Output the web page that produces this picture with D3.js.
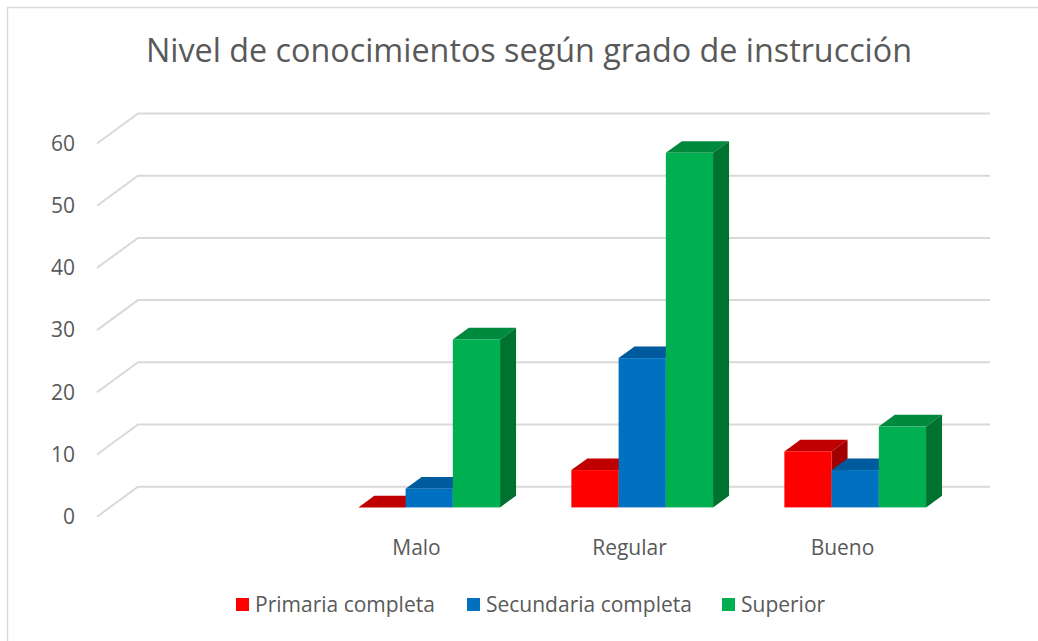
<!DOCTYPE html>
<html>
<head>
<meta charset="utf-8">
<script src="https://cdn.jsdelivr.net/npm/d3@7"></script>
<style>
  body { margin: 0; background: #fff; }
  text { font-family: "Open Sans", sans-serif; fill: #595959; }
</style>
</head>
<body>
<script>
// data (first category slot is empty in the original)
const categories = ["", "Malo", "Regular", "Bueno"];
const series = ["Primaria completa", "Secundaria completa", "Superior"];
const primaria = [null, 0, 6, 9];
const secundaria = [null, 3, 24, 6];
const superior = [null, 27, 57, 13];
const yTicks = [0, 10, 20, 30, 40, 50, 60];

const colors = {
    "Primaria completa": { front: "#FF0000", top: "#C00000", side: "#A00000" },
    "Secundaria completa": { front: "#0070C0", top: "#005A9E", side: "#004C86" },
    "Superior": { front: "#00B050", top: "#008A3E", side: "#00722F" }
};

const values = [primaria, secundaria, superior];
const rows = categories.map((c, i) => ({
    cat: c,
    vals: series.map((s, j) => ({ key: s, value: values[j][i] }))
}));

const width = 1038;
const height = 641;

// back wall
const backLeft = 138, backRight = 990;
// depth vector back -> front
const depthX = -41, depthY = 30;
// bar faces as fraction of the floor depth (0 = back wall, 1 = front edge)
const barFront = 0.69, barBack = 0.30;

const x0 = d3.scaleBand()
    .domain(categories)
    .range([backLeft, backRight])
    .paddingInner(0)
    .paddingOuter(0);

const x1 = d3.scaleBand()
    .domain(series)
    .range([0, x0.bandwidth()])
    .paddingInner(0)
    .paddingOuter(0.755);

const y = d3.scaleLinear()
    .domain([0, 60])
    .range([486.7, 113.5]);

const svg = d3.select("body").append("svg")
    .attr("width", width)
    .attr("height", height)
    .attr("viewBox", [0, 0, width, height]);

svg.append("rect")
    .attr("x", 7.5)
    .attr("y", 7.5)
    .attr("width", width + 20)
    .attr("height", height + 20)
    .attr("fill", "#fff")
    .attr("stroke", "#D9D9D9")
    .attr("stroke-width", 1.5);

svg.append("text")
    .attr("x", 529)
    .attr("y", 62)
    .attr("text-anchor", "middle")
    .attr("font-size", 32)
    .attr("textLength", 766)
    .attr("lengthAdjust", "spacingAndGlyphs")
    .text("Nivel de conocimientos según grado de instrucción");

// gridlines: back wall + side wall
const grid = svg.append("g")
    .attr("stroke", "#D9D9D9")
    .attr("stroke-width", 2)
    .attr("fill", "none");

grid.selectAll("path")
    .data(yTicks)
    .join("path")
    .attr("d", d => `M${backRight},${y(d)}H${backLeft}L${backLeft + depthX},${y(d) + depthY}`);

svg.append("g")
    .selectAll("text")
    .data(yTicks)
    .join("text")
    .attr("x", 75)
    .attr("y", d => y(d) + depthY)
    .attr("dy", "0.35em")
    .attr("text-anchor", "end")
    .attr("font-size", 21)
    .text(d => d);

svg.append("g")
    .selectAll("text")
    .data(categories)
    .join("text")
    .attr("x", d => x0(d) + x0.bandwidth() / 2 + depthX)
    .attr("y", 555)
    .attr("text-anchor", "middle")
    .attr("font-size", 21)
    .text(d => d);

// 3D bars, drawn left to right so front faces cover neighbours' sides
const bars = [];
rows.forEach(r => {
    r.vals.forEach(v => {
        if (v.value == null) return;
        bars.push({ cat: r.cat, key: v.key, value: v.value });
    });
});

const fx = barFront * depthX, fy = barFront * depthY;
const bx = barBack * depthX, by = barBack * depthY;

const barG = svg.append("g")
    .selectAll("g")
    .data(bars)
    .join("g");

function pts(a) {
    return a.map(p => p.join(",")).join(" ");
}

barG.each(function(d) {
    const g = d3.select(this);
    const xl = x0(d.cat) + x1(d.key);
    const xr = xl + x1.bandwidth();
    const yb = y(0), yt = y(d.value);
    const c = colors[d.key];
    // top
    g.append("polygon")
        .attr("points", pts([[xl + fx, yt + fy], [xr + fx, yt + fy], [xr + bx, yt + by], [xl + bx, yt + by]]))
        .attr("fill", c.top);
    // right side
    g.append("polygon")
        .attr("points", pts([[xr + fx, yt + fy], [xr + bx, yt + by], [xr + bx, yb + by], [xr + fx, yb + fy]]))
        .attr("fill", c.side);
    // front
    g.append("rect")
        .attr("x", xl + fx)
        .attr("y", yt + fy)
        .attr("width", x1.bandwidth())
        .attr("height", yb - yt)
        .attr("fill", c.front);
});

// legend
const legendX = [236, 467, 722];
const legend = svg.append("g")
    .selectAll("g")
    .data(series)
    .join("g")
    .attr("transform", (d, i) => `translate(${legendX[i]},598)`);

legend.append("rect")
    .attr("width", 13)
    .attr("height", 13)
    .attr("fill", d => colors[d].front);

legend.append("text")
    .attr("x", 19)
    .attr("y", 7)
    .attr("dy", "0.35em")
    .attr("font-size", 21)
    .text(d => d);
</script>
</body>
</html>
